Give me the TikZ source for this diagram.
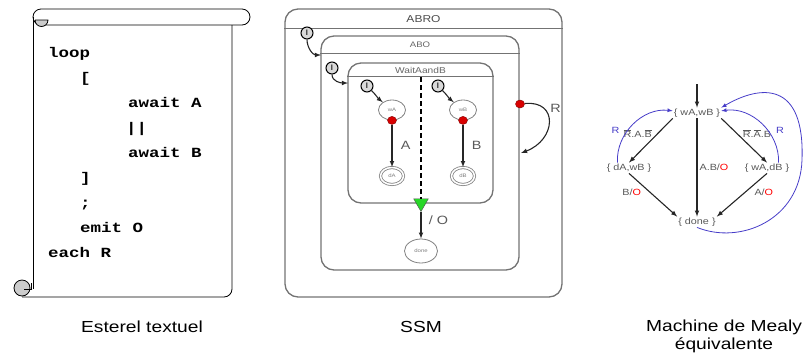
\documentclass[tikz,border=0pt]{standalone}
\usepackage{fontspec}
\setmainfont[FakeStretch=1.2]{Liberation Sans}
\newfontfamily\codefont[FakeStretch=1.25]{Liberation Mono}
\usetikzlibrary{arrows,shapes}
\usetikzlibrary{calc}
\definecolor{rblue}{RGB}{70,60,200}
\definecolor{joingreen}{RGB}{40,215,40}
\newcommand{\nb}[1]{$\overline{\mbox{#1}}$}
\newcommand{\fs}[1]{\fontsize{#1}{#1}\selectfont}
\tikzstyle{macro}=[draw=black!55,line width=1.3pt,rounded corners=13pt,inner sep=0pt]
\tikzstyle{state}=[ellipse,draw=black!50,fill=white,thick,minimum width=27pt,minimum height=20pt,inner sep=0pt,font=\fs{5},text=black!50]
\tikzstyle{final}=[state,double,double distance=1.5pt,minimum width=23pt,minimum height=17pt]
\tikzstyle{initmark}=[circle,draw,fill=black!15,line width=1pt,minimum size=12pt,inner sep=0pt,font=\fs{8}]
\tikzstyle{trigger}=[ellipse,fill=red!85!black,draw=red!50!black,minimum width=9pt,minimum height=8pt,inner sep=0pt]
\tikzstyle{mstate}=[font=\fs{9},text=black!65,inner sep=1pt]
\tikzstyle{weight}=[font=\fs{9},text=black!65,inner sep=1pt]
\tikzstyle{code}=[font=\codefont\bfseries\fs{14},inner sep=0pt,anchor=base west]
\tikzstyle{trans}=[->,line width=1.1pt,black!85]

\begin{document}
\begin{tikzpicture}[x=1pt,y=-1pt,>=latex]
\useasboundingbox (0,0) rectangle (807,360);

% scroll
\draw[thick,fill=white] (41,9) -- (242,9) arc[start angle=-90,end angle=90,radius=8] -- (41,25) arc[start angle=90,end angle=270,radius=8] -- cycle;
\filldraw[thick,fill=black!20] (35,20) -- (48,20) arc[start angle=0,end angle=180,radius=6.5];
\draw[thick] (33,17) -- (33,289);
\draw[thick] (232,25) -- (232,289) arc[start angle=0,end angle=90,radius=8] -- (22,297);
\filldraw[thick,fill=black!20] (22,288) circle (8);
\draw[thick] (24,289) -- (31,289) -- (31,283);
\foreach \x/\y/\txt in {48/57/loop, 80/82/{[}, 128/107/await A, 126/132/{||}, 128/157/await B, 80/182/{]}, 80/207/{;}, 80/232/emit O, 48/257/each R}
    \node[code] (c\y) at (\x,\y) {\txt};

% SSM
\node[macro,minimum width=277pt,minimum height=288pt] (ABRO) at (423.5,153) {};
\node[macro,minimum width=198pt,minimum height=234pt] (ABO) at (420,153) {};
\node[macro,minimum width=145pt,minimum height=140pt] (WAB) at (420.5,133) {};
\draw[draw=black!55,line width=1.3pt] ([yshift=-20pt]ABRO.north west) -- ([yshift=-20pt]ABRO.north east);
\draw[draw=black!55,line width=1.3pt] ([yshift=-18pt]ABO.north west) -- ([yshift=-18pt]ABO.north east);
\draw[draw=black!55,line width=1.3pt] ([yshift=-14pt]WAB.north west) -- ([yshift=-14pt]WAB.north east);
\node[font=\fs{10},text=black!70] at (423.5,19) {ABRO};
\node[font=\fs{8},text=black!60] at (420,45) {ABO};
\node[font=\fs{8.5},text=black!60] at (420.5,70) {WaitAandB};

\node[state] (wA) at (392,110) {wA};
\node[state] (wB) at (463,110) {wB};
\node[final] (dA) at (392,176) {dA};
\node[final] (dB) at (463,176) {dB};
\node[state,minimum width=33pt,minimum height=24pt] (done) at (421,251) {done};

\node[initmark] (iABO) at (307,33) {I};
\node[initmark] (iWAB) at (332,68) {I};
\node[initmark] (iA) at (367,86) {I};
\node[initmark] (iB) at (438,86) {I};
\coordinate (eABO) at (321,55);
\coordinate (eWAB) at (348,83);
\draw[trans] (iABO) to[out=-90,in=180] (eABO);
\draw[trans] (iWAB) to[out=-90,in=180] (eWAB);
\draw[trans] (iA) to[out=-45,in=140] (wA);
\draw[trans] (iB) to[out=-45,in=140] (wB);

\node[trigger] (tA) at (wA.south) {};
\node[trigger] (tB) at (wB.south) {};
\draw[trans] (tA) -- node[right=5pt,font=\fs{12},text=black!65] {A} (dA);
\draw[trans] (tB) -- node[right=5pt,font=\fs{12},text=black!65] {B} (dB);

\coordinate (split) at (421,77);
\node[regular polygon,regular polygon sides=3,shape border rotate=180,draw=black!70,fill=joingreen,minimum size=17pt,inner sep=0pt] (join) at (421,203) {};
\draw[very thick,dash pattern=on 5pt off 3pt] (split) -- (join);
\draw[trans] (join) -- node[pos=0.3,right=4pt,font=\fs{12},text=black!65] {/ O} (done);

\node[trigger] (tR) at (520,104) {};
\coordinate (eR) at (521,153);
\draw[trans] (tR) .. controls (559,100) and (556,140) .. node[pos=0.25,right=3pt,font=\fs{12},text=black!65] {R} (eR);

% Mealy
\node[mstate] (s0) at (697,113) {\{ wA,wB \}};
\node[mstate] (s1) at (629,168) {\{ dA,wB \}};
\node[mstate] (s2) at (767,168) {\{ wA,dB \}};
\node[mstate] (s3) at (697,222) {\{ done \}};
\coordinate (start) at (697,84);
\draw[trans] (start) -- (s0);

\draw[trans] (s0.south west) -- node[weight,pos=0.35,left=4pt] {\nb{R}.A.\nb{B}} (s1.north);
\draw[trans] (s0.south east) -- node[weight,pos=0.35,right=4pt] {\nb{R}.\nb{A}.B} (s2.north);
\draw[trans] (s0) -- node[weight,right=1pt] {A.B/\textcolor{red}{O}} (s3);
\draw[trans] (s1.south) -- node[weight,pos=0.3,below left=1pt] {B/\textcolor{red}{O}} (s3.north west);
\draw[trans] (s2.south) -- node[weight,pos=0.3,below right=1pt] {A/\textcolor{red}{O}} (s3.north east);

\draw[->,thick,rblue] (s1.155) to[bend left=50] node[pos=0.3,above left=0pt,font=\fs{9}] {R} (s0.175);
\draw[->,thick,rblue] (s2.25) to[bend right=50] node[pos=0.3,above right=0pt,font=\fs{9}] {R} (s0.5);
\coordinate (loopR) at (802,160);
\draw[->,thick,rblue] (s3.south) .. controls (740,245) and (800,220) .. (loopR) .. controls (805,80) and (760,85) .. (s0.north east);

\node[font=\fs{16}] (cap1) at (142,327) {Esterel textuel};
\node[font=\fs{16}] (cap2) at (421,327) {SSM};
\node[font=\fs{16},align=center] (cap3) at (724,336) {Machine de Mealy\\[2pt]équivalente};
\end{tikzpicture}
\end{document}
